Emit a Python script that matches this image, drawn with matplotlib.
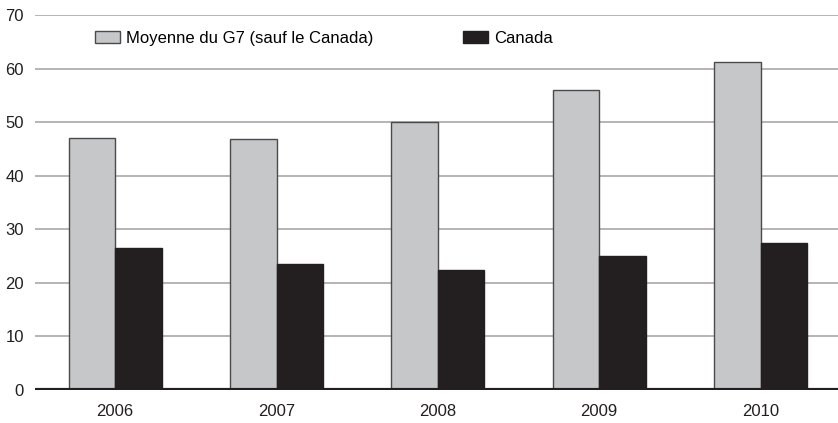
import matplotlib
matplotlib.use('Agg')
import matplotlib.pyplot as plt
import numpy as np

plt.rcParams['font.family'] = ['Liberation Sans', 'DejaVu Sans']

# Données
annees = ['2006', '2007', '2008', '2009', '2010']
g7 = [47.0, 46.8, 50.0, 56.0, 61.2]
canada = [26.5, 23.5, 22.4, 25.0, 27.4]

fig = plt.figure(figsize=(8.38, 4.23), dpi=100)
ax = fig.add_axes([35/838, 33/423, 803/838, 375/423])

x = np.arange(len(annees))
w = 0.288
ax.bar(x - w/2, g7, w, color='#c6c7c9', edgecolor='#4a4a4a', linewidth=1,
       label='Moyenne du G7 (sauf le Canada)', zorder=3)
ax.bar(x + w/2, canada, w, color='#231f20', edgecolor='#231f20', linewidth=1,
       label='Canada', zorder=3)

ax.set_ylim(0, 70)
ax.set_xlim(-0.497, 4.48)
ax.set_yticks(range(0, 71, 10))
ax.set_xticks(x)
ax.set_xticklabels(annees)
ax.yaxis.grid(True, color='#a8a8a8', linewidth=1.2, zorder=0)
ax.axhline(0, color='#231f20', linewidth=3, zorder=4)

for s in ['top', 'right', 'left', 'bottom']:
    ax.spines[s].set_visible(False)
ax.tick_params(axis='both', length=0, labelsize=12, colors='#231f20')
ax.tick_params(axis='y', pad=8)
ax.tick_params(axis='x', pad=10)

ax.legend(loc='upper left', bbox_to_anchor=(95/838, 1 - 31/423),
          bbox_transform=fig.transFigure, ncol=2, frameon=False,
          fontsize=12, handlelength=1.5, handleheight=0.7,
          handletextpad=0.35, columnspacing=5.4, borderaxespad=0, borderpad=0)

fig.savefig('out.png', dpi=100)
